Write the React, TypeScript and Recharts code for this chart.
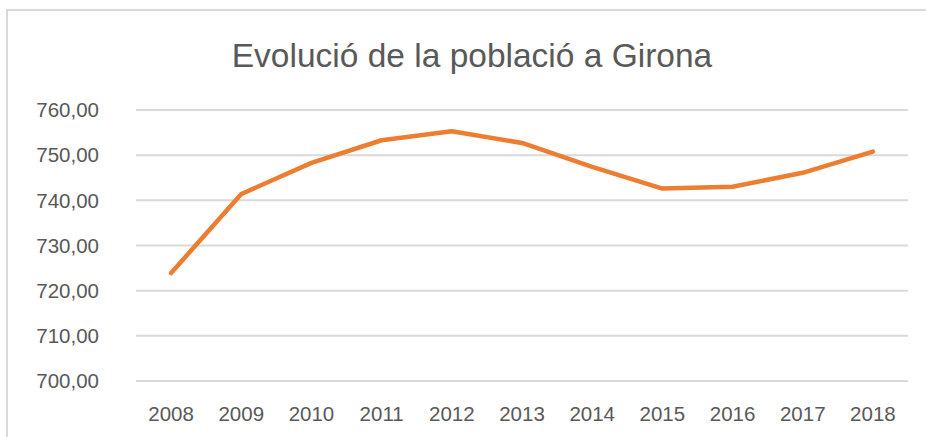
import { LineChart, Line, XAxis, YAxis, CartesianGrid } from "recharts";

/* ── Data ───────────────────────────────────────────────────────── */
const years = ["2008", "2009", "2010", "2011", "2012", "2013", "2014", "2015", "2016", "2017", "2018"];
const population = [723.9, 741.4, 748.3, 753.3, 755.3, 752.7, 747.4, 742.6, 743.0, 746.1, 750.8];
const yTicks = [700, 710, 720, 730, 740, 750, 760];

const data = years.map((year, i) => ({ year, value: population[i] }));

const FONT = "'Liberation Sans', Arial, sans-serif";
const TEXT_GREY = "#595959";
const GRID_GREY = "#d9d9d9";
const ORANGE = "#ED7D31";

const fmt = (v: number) => v.toFixed(2).replace(".", ",");

export default function App() {
  return (
    <div style={{ position: "fixed", left: 0, top: 0, width: 926, height: 437, overflow: "hidden", background: "#fff", fontFamily: FONT }}>
      {/* chart frame (runs off the right and bottom edges) */}
      <div style={{
        position: "absolute", left: 6, top: 9, width: 960, height: 460,
        borderLeft: `2px solid ${GRID_GREY}`, borderTop: `2px solid ${GRID_GREY}`,
      }} />
      <div style={{
        position: "absolute", left: 0, width: 944, top: 36, textAlign: "center",
        fontSize: 33.5, color: TEXT_GREY, lineHeight: "40px",
      }}>
        Evolució de la població a Girona
      </div>
      <div style={{ position: "absolute", left: 0, top: 0 }}>
        <LineChart width={926} height={437} data={data}
          margin={{ top: 110, right: 18, bottom: 0, left: 0 }}>
          <CartesianGrid vertical={false} stroke={GRID_GREY} strokeWidth={2} />
          <XAxis dataKey="year" scale="band" axisLine={false} tickLine={false}
            tickSize={0} tickMargin={25} height={56} interval={0}
            tick={{ fill: TEXT_GREY, fontSize: 20.5, fontFamily: FONT }} />
          <YAxis domain={[700, 760]} ticks={yTicks} axisLine={false} tickLine={false}
            tickSize={0} tickMargin={37} width={136} tickFormatter={fmt}
            tick={{ fill: TEXT_GREY, fontSize: 20.5, fontFamily: FONT }} />
          <Line type="linear" dataKey="value" stroke={ORANGE} strokeWidth={4.5}
            strokeLinecap="round" strokeLinejoin="round" dot={false}
            isAnimationActive={false} />
        </LineChart>
      </div>
    </div>
  );
}
